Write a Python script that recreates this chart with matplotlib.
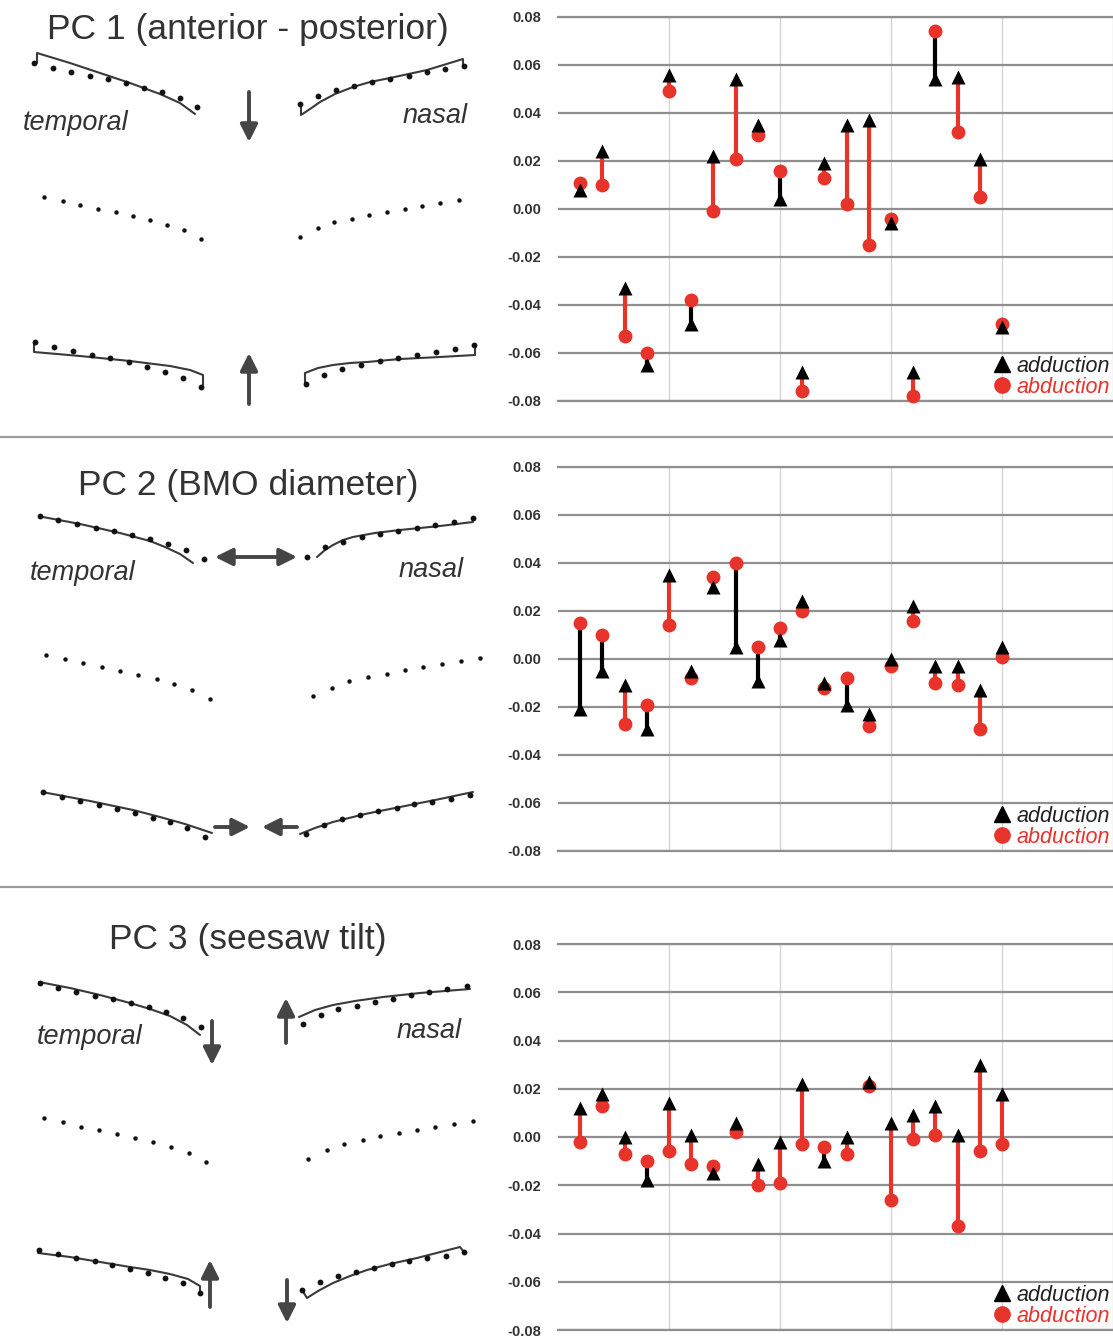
import numpy as np
import matplotlib
matplotlib.use("Agg")
import matplotlib.pyplot as plt
from matplotlib.lines import Line2D

plt.rcParams["font.family"] = ["Liberation Sans", "DejaVu Sans"]

# --- chart data: 20 subjects, PC scores in adduction / abduction ---
subjects = np.arange(1, 21)

pc1_add = [0.008, 0.024, -0.033, -0.065, 0.056, -0.048, 0.022, 0.054, 0.035, 0.004,
           -0.068, 0.019, 0.035, 0.037, -0.006, -0.068, 0.054, 0.055, 0.021, -0.049]
pc1_abd = [0.011, 0.010, -0.053, -0.060, 0.049, -0.038, -0.001, 0.021, 0.031, 0.016,
           -0.076, 0.013, 0.002, -0.015, -0.004, -0.078, 0.074, 0.032, 0.005, -0.048]

pc2_add = [-0.021, -0.005, -0.011, -0.029, 0.035, -0.005, 0.030, 0.005, -0.009, 0.008,
           0.024, -0.010, -0.019, -0.023, 0.000, 0.022, -0.003, -0.003, -0.013, 0.005]
pc2_abd = [0.015, 0.010, -0.027, -0.019, 0.014, -0.008, 0.034, 0.040, 0.005, 0.013,
           0.020, -0.012, -0.008, -0.028, -0.003, 0.016, -0.010, -0.011, -0.029, 0.001]

pc3_add = [0.012, 0.018, 0.000, -0.018, 0.014, 0.001, -0.015, 0.006, -0.011, -0.002,
           0.022, -0.010, 0.000, 0.023, 0.006, 0.009, 0.013, 0.001, 0.030, 0.018]
pc3_abd = [-0.002, 0.013, -0.007, -0.010, -0.006, -0.011, -0.012, 0.002, -0.020, -0.019,
           -0.003, -0.004, -0.007, 0.021, -0.026, -0.001, 0.001, -0.037, -0.006, -0.003]

y_ticks = [-0.08, -0.06, -0.04, -0.02, 0.00, 0.02, 0.04, 0.06, 0.08]
y_ticklabels = ["-0.08", "-0.06", "-0.04", "-0.02", "0.00", "0.02", "0.04", "0.06", "0.08"]
x_grid = [5, 10, 15, 20, 25]

titles = ["PC 1 (anterior - posterior)", "PC 2 (BMO diameter)", "PC 3 (seesaw tilt)"]

# --- schematic outlines (pixel coords of the left drawings) ---
# PC1
pc1_top_t_line = ([37, 37, 70, 100, 130, 160, 180, 195], [63, 53, 63, 73, 83, 94, 103, 114])
pc1_top_t_dots = ([34, 53, 71, 90, 108, 126, 144, 162, 180, 197],
                  [63, 68, 72, 76, 79, 83, 88, 92, 98, 107])
pc1_top_n_line = ([301, 301, 310, 320, 335, 353, 370, 390, 427, 463, 463],
                  [104, 115, 109, 102, 94, 87, 82, 78, 70, 59, 66])
pc1_top_n_dots = ([300, 318, 336, 354, 372, 390, 409, 427, 445, 464],
                  [104, 96, 90, 86, 82, 79, 76, 72, 69, 66])
pc1_mid_t_dots = ([44, 63, 80, 98, 116, 133, 150, 167, 184, 201],
                  [197, 201, 205, 209, 212, 216, 220, 225, 230, 239])
pc1_mid_n_dots = ([300, 318, 334, 352, 369, 387, 405, 422, 440, 459],
                  [237, 228, 222, 219, 215, 212, 209, 206, 203, 200])
pc1_bot_t_line = ([34, 34, 80, 130, 170, 190, 203, 203],
                  [342, 352, 356, 361, 366, 370, 375, 387])
pc1_bot_t_dots = ([35, 54, 73, 92, 110, 129, 147, 165, 183, 201],
                  [342, 347, 351, 355, 358, 362, 367, 372, 378, 387])
pc1_bot_n_line = ([305, 305, 318, 333, 350, 367, 400, 440, 475, 475],
                  [384, 373, 368, 365, 363, 362, 359, 357, 355, 345])
pc1_bot_n_dots = ([306, 324, 342, 361, 380, 398, 417, 436, 455, 474],
                  [384, 375, 369, 365, 361, 358, 355, 352, 349, 345])
pc1_arrows = [((249, 92), (249, 142)), ((249, 404), (249, 353))]

# PC2
pc2_top_t_line = ([43, 80, 120, 150, 165, 180, 193], [517, 524, 533, 541, 547, 554, 563])
pc2_top_t_dots = ([40, 58, 77, 96, 114, 132, 150, 168, 186, 204],
                  [516, 520, 524, 528, 531, 535, 539, 544, 550, 559])
pc2_top_n_line = ([317, 325, 333, 343, 353, 375, 400, 440, 473], [557, 550, 545, 540, 537, 533, 530, 526, 522])
pc2_top_n_dots = ([307, 325, 343, 362, 380, 398, 417, 435, 454, 473],
                  [557, 547, 542, 537, 534, 531, 528, 525, 522, 518])
pc2_mid_t_dots = ([46, 65, 83, 102, 120, 138, 157, 174, 192, 210],
                  [655, 659, 663, 667, 671, 675, 679, 684, 690, 699])
pc2_mid_n_dots = ([313, 332, 349, 368, 387, 405, 423, 442, 461, 480],
                  [696, 688, 681, 677, 674, 670, 667, 664, 661, 658])
pc2_bot_t_line = ([42, 90, 133, 160, 185, 212], [792, 801, 810, 817, 824, 833])
pc2_bot_t_dots = ([43, 62, 80, 99, 117, 135, 153, 170, 187, 205],
                  [792, 797, 801, 805, 809, 813, 818, 822, 828, 837])
pc2_bot_n_line = ([300, 315, 333, 365, 400, 440, 473], [834, 828, 822, 814, 807, 799, 792])
pc2_bot_n_dots = ([306, 324, 342, 360, 378, 397, 414, 432, 451, 470],
                  [834, 825, 819, 815, 811, 808, 804, 802, 799, 795])
pc2_double_arrow = ((215, 557), (297, 557))
pc2_arrows = [((215, 827), (250, 827)), ((297, 827), (262, 827))]

# PC3
pc3_top_t_line = ([39, 70, 100, 130, 150, 170, 187, 200],
                  [982, 988, 995, 1003, 1009, 1016, 1025, 1035])
pc3_top_t_dots = ([40, 58, 76, 95, 113, 131, 149, 166, 183, 201],
                  [983, 988, 992, 996, 999, 1003, 1007, 1012, 1018, 1027])
pc3_top_n_line = ([299, 315, 333, 355, 383, 420, 470], [1017, 1010, 1005, 1001, 997, 993, 989])
pc3_top_n_dots = ([303, 321, 338, 357, 375, 393, 411, 429, 447, 467],
                  [1024, 1015, 1009, 1006, 1002, 999, 995, 992, 989, 986])
pc3_mid_t_dots = ([44, 63, 81, 99, 117, 135, 153, 171, 189, 206],
                  [1118, 1122, 1127, 1130, 1134, 1138, 1142, 1147, 1153, 1162])
pc3_mid_n_dots = ([308, 327, 344, 363, 380, 399, 417, 435, 454, 473],
                  [1159, 1150, 1144, 1140, 1136, 1133, 1130, 1127, 1124, 1121])
pc3_bot_t_line = ([38, 70, 100, 130, 150, 170, 188, 200, 200],
                  [1253, 1257, 1262, 1267, 1270, 1274, 1279, 1286, 1293])
pc3_bot_t_dots = ([39, 58, 76, 95, 112, 130, 148, 165, 183, 200],
                  [1250, 1254, 1258, 1261, 1265, 1269, 1273, 1278, 1283, 1293])
pc3_bot_n_line = ([302, 307, 318, 333, 350, 367, 390, 417, 460, 464],
                  [1290, 1298, 1291, 1283, 1276, 1270, 1264, 1258, 1247, 1252])
pc3_bot_n_dots = ([302, 320, 338, 356, 374, 392, 409, 427, 446, 464],
                  [1290, 1282, 1276, 1272, 1268, 1264, 1261, 1258, 1256, 1252])
pc3_arrows = [((212, 1021), (212, 1065)), ((286, 1043), (286, 998)),
              ((210, 1307), (210, 1260)), ((287, 1280), (287, 1323))]

label_pos = [((76, 123), (435, 116)), ((83, 573), (431, 570)), ((90, 1037), (429, 1031))]
title_pos = [(248, 30), (248, 486), (248, 940)]
chart_boxes = [(17, 401), (467, 851), (944, 1330)]   # top / bottom px of each chart

W, H = 1113, 1337
RED = "#e8332b"
INK = "#333333"

fig = plt.figure(figsize=(W / 100, H / 100), dpi=100, facecolor="white")

# overlay axes in pixel coordinates for the drawings and captions
bg = fig.add_axes([0, 0, 1, 1])
bg.set_xlim(0, W)
bg.set_ylim(H, 0)
bg.axis("off")

for ysep in (437, 887):
    bg.plot([0, W], [ysep, ysep], color="#9a9a9a", lw=1.6)

for (tx, ty), t in zip(title_pos, titles):
    bg.text(tx, ty, t, fontsize=25.5, color=INK, ha="center", va="center")
for (tp, npos) in label_pos:
    bg.text(*tp, "temporal", fontsize=19.5, style="italic", color=INK,
            ha="center", va="center")
    bg.text(*npos, "nasal", fontsize=19.5, style="italic", color=INK,
            ha="center", va="center")

lines = [pc1_top_t_line, pc1_top_n_line, pc1_bot_t_line, pc1_bot_n_line,
         pc2_top_t_line, pc2_top_n_line, pc2_bot_t_line, pc2_bot_n_line,
         pc3_top_t_line, pc3_top_n_line, pc3_bot_t_line, pc3_bot_n_line]
for lx, ly in lines:
    bg.plot(lx, ly, color="#3a3a3a", lw=1.5, solid_capstyle="round",
            solid_joinstyle="round")

big_dots = [pc1_top_t_dots, pc1_top_n_dots, pc1_bot_t_dots, pc1_bot_n_dots,
            pc2_top_t_dots, pc2_top_n_dots, pc2_bot_t_dots, pc2_bot_n_dots,
            pc3_top_t_dots, pc3_top_n_dots, pc3_bot_t_dots, pc3_bot_n_dots]
for dx, dy in big_dots:
    bg.plot(dx, dy, "o", color="#111111", ms=4.2, mec="none")
for dx, dy in [pc1_mid_t_dots, pc1_mid_n_dots, pc2_mid_t_dots, pc2_mid_n_dots,
               pc3_mid_t_dots, pc3_mid_n_dots]:
    bg.plot(dx, dy, "o", color="#111111", ms=3.2, mec="none")

arrow_kw = dict(arrowstyle="-|>", color="#454545", lw=2.8, mutation_scale=26,
                shrinkA=0, shrinkB=0)
for start, end in pc1_arrows + pc2_arrows + pc3_arrows:
    bg.annotate("", xy=end, xytext=start, arrowprops=arrow_kw)
bg.annotate("", xy=pc2_double_arrow[1], xytext=pc2_double_arrow[0],
            arrowprops=dict(arrow_kw, arrowstyle="<|-|>"))

# right-hand charts
score_sets = [(pc1_add, pc1_abd), (pc2_add, pc2_abd), (pc3_add, pc3_abd)]
for (top, bot), (add, abd) in zip(chart_boxes, score_sets):
    ax = fig.add_axes([558 / W, 1 - bot / H, (W - 558) / W, (bot - top) / H])
    ax.set_xlim(0, 25)
    ax.set_ylim(-0.08, 0.08)
    ax.set_yticks(y_ticks)
    ax.set_yticklabels(y_ticklabels, fontsize=10.5, fontweight="bold", color=INK)
    ax.set_xticks(x_grid)
    ax.set_xticklabels([])
    ax.tick_params(length=0, pad=12)
    ax.grid(axis="y", color="#8f8f8f", lw=1.6)
    ax.grid(axis="x", color="#d6d6d6", lw=1.0)
    ax.set_axisbelow(True)
    for side in ("left", "right"):
        ax.spines[side].set_visible(False)
    for side in ("top", "bottom"):
        ax.spines[side].set_color("#8f8f8f")
        ax.spines[side].set_linewidth(1.6)

    add = np.array(add)
    abd = np.array(abd)
    stem_cols = np.where(add > abd, RED, "black")
    ax.vlines(subjects, abd, add, colors=stem_cols, lw=3, zorder=2)
    ax.plot(subjects, abd, "o", color=RED, ms=10, mec="none", zorder=3, clip_on=False)
    ax.plot(subjects, add, "^", color="black", ms=9.5, mec="none", zorder=4, clip_on=False)

    handles = [Line2D([], [], marker="^", ls="none", color="black", ms=11),
               Line2D([], [], marker="o", ls="none", color=RED, ms=11)]
    ax.legend(handles, ["adduction", "abduction"], loc="lower right",
              frameon=False, prop={"size": 15.5, "style": "italic"},
              handlelength=0.6, handletextpad=0.35, labelspacing=0.0,
              borderaxespad=0.05, borderpad=0.1,
              labelcolor=["#222222", RED])

fig.savefig("out.png", dpi=100, facecolor=fig.get_facecolor())
